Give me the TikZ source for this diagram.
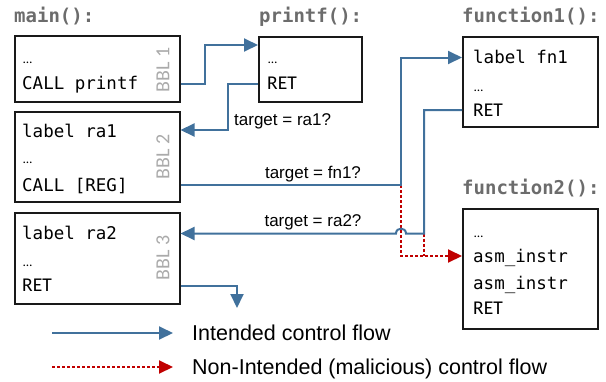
\documentclass[tikz,border=0pt]{standalone}
\usepackage{fontspec}
\setmainfont{Liberation Sans}
\setmonofont{DejaVu Sans Mono}
\newfontfamily\carlito{Carlito}
\usetikzlibrary{arrows.meta}

\definecolor{flowblue}{RGB}{65,113,156}
\definecolor{evilred}{RGB}{192,0,0}
\definecolor{titlegray}{RGB}{108,108,108}
\definecolor{bblgray}{RGB}{170,170,170}

\tikzset{
	flow/.style={draw=flowblue,line width=2pt,-{Triangle[length=14pt,width=13pt]}},
	evil/.style={draw=evilred,line width=2pt,dash pattern=on 3pt off 2pt,-{Triangle[length=14pt,width=13pt]}},
	evilline/.style={draw=evilred,line width=2pt,dash pattern=on 3pt off 2pt},
	blk/.style={draw=black!90,line width=1.5pt,anchor=north west,inner sep=0pt},
	code/.style={anchor=west,inner sep=0pt,text height=12pt,text depth=0pt,font=\ttfamily\fontsize{17.5}{20}\selectfont},
	plain/.style={anchor=west,inner sep=0pt,text height=12pt,text depth=0pt,font=\carlito\fontsize{19.5}{22}\selectfont},
	dots/.style={anchor=west,inner sep=0pt,text height=6pt,text depth=0pt,font=\carlito\fontsize{13}{15}\selectfont},
	fname/.style={anchor=west,inner sep=0pt,text height=13pt,text depth=0pt,text=titlegray,font=\ttfamily\bfseries\fontsize{19}{22}\selectfont},
	bbl/.style={rotate=90,inner sep=0pt,text=bblgray,font=\carlito\fontsize{20}{22}\selectfont},
	tlabel/.style={inner sep=0pt,text height=12pt,text depth=0pt,font=\fontsize{17}{20}\selectfont},
	legend/.style={anchor=west,inner sep=0pt,text height=15pt,text depth=0pt,font=\fontsize{21.5}{24}\selectfont}
}

\begin{document}
\begin{tikzpicture}[x=1pt,y=-1pt]
	\useasboundingbox (0,0) rectangle (606,381);

	%function names
	\node[fname] (tmain)   at ( 14, 16) {main():};
	\node[fname] (tprintf) at (259, 16) {printf():};
	\node[fname] (tfn1)    at (462, 16) {function1():};
	\node[fname] (tfn2)    at (462,188) {function2():};

	%blocks
	\node[blk,minimum width=165pt,minimum height=66pt]  (bbl1) at ( 14, 35) {};
	\node[blk,minimum width=165pt,minimum height=90pt]  (bbl2) at ( 14,111) {};
	\node[blk,minimum width=165pt,minimum height=91pt]  (bbl3) at ( 14,212) {};
	\node[blk,minimum width=103pt,minimum height=65pt]  (pf)   at (258, 36) {};
	\node[blk,minimum width=135pt,minimum height=90pt]  (fn1)  at (462, 36) {};
	\node[blk,minimum width=135pt,minimum height=120pt] (fn2)  at (462,208) {};

	\node[bbl] (bblone)   at (163, 70) {BBL 1};
	\node[bbl] (bbltwo)   at (163,157) {BBL 2};
	\node[bbl] (bblthree) at (163,258) {BBL 3};

	%block contents
	\node[dots]  (b1dots) at (23, 60)   {…};
	\node[code]  (b1call) at (22, 83.5) {CALL printf};
	\node[code]  (b2lab)  at (22,131.5) {label ra1};
	\node[dots]  (b2dots) at (23,160)   {…};
	\node[code]  (b2call) at (22,185)   {CALL [REG]};
	\node[code]  (b3lab)  at (22,233.5) {label ra2};
	\node[dots]  (b3dots) at (23,263)   {…};
	\node[plain] (b3ret)  at (22,285.5) {RET};
	%
	\node[dots]  (pfdots) at (268, 60)   {…};
	\node[plain] (pfret)  at (267, 83.5) {RET};
	%
	\node[code]  (f1lab)  at (473, 57.5) {label fn1};
	\node[dots]  (f1dots) at (474, 88)   {…};
	\node[plain] (f1ret)  at (473,110)   {RET};
	%
	\node[dots]  (f2dots) at (474,234) {…};
	\node[code]  (f2asm)  at (473,256) {asm\_instr};
	\node[code]  (f2asmb) at (473,283) {asm\_instr};
	\node[plain] (f2ret)  at (473,308) {RET};

	%bends
	\coordinate (k1)  at (205, 45);
	\coordinate (k2)  at (228,130);
	\coordinate (k3)  at (401,185);
	\coordinate (k4)  at (424,233.5);
	\coordinate (hop) at (401,233.5);
	\coordinate (k5)  at (237,308);

	%malicious flow
	\draw[evil] (k3) |- (f2asm -| fn2.west);
	\draw[evilline] (k4) -- (k4 |- f2asm);

	%intended flow
	\draw[flow] (b1call -| bbl1.east) -| (k1) -- (k1 -| pf.west);
	\draw[flow] (pfret -| pf.west) -| (k2) -- (k2 -| bbl2.east);
	\draw[flow] (b2call -| bbl2.east) -- (k3) |- (f1lab -| fn1.west);
	\draw[flow] (f1ret -| fn1.west) -| (k4) -- ([xshift=5pt]hop)
		.. controls ([xshift=5pt,yshift=6.5pt]hop) and ([xshift=-5pt,yshift=6.5pt]hop) .. ([xshift=-5pt]hop)
		-- (b3lab -| bbl3.east);
	\draw[flow] (b3ret -| bbl3.east) -| (k5);

	%labels
	\node[tlabel,anchor=west] (tra1) at (234,119) {target = ra1?};
	\node[tlabel] (tfn1q) at (313,172) {target = fn1?};
	\node[tlabel] (tra2)  at (313,220) {target = ra2?};

	%legend
	\coordinate (l1) at (52,333);
	\coordinate (l2) at (52,367);
	\node[legend] (lg1) at (192,333) {Intended control flow};
	\node[legend] (lg2) at (192,367) {Non-Intended (malicious) control flow};
	\draw[flow] (l1) -- ([xshift=-19pt]lg1.west);
	\draw[evil] (l2) -- ([xshift=-19pt]lg2.west);
\end{tikzpicture}
\end{document}
